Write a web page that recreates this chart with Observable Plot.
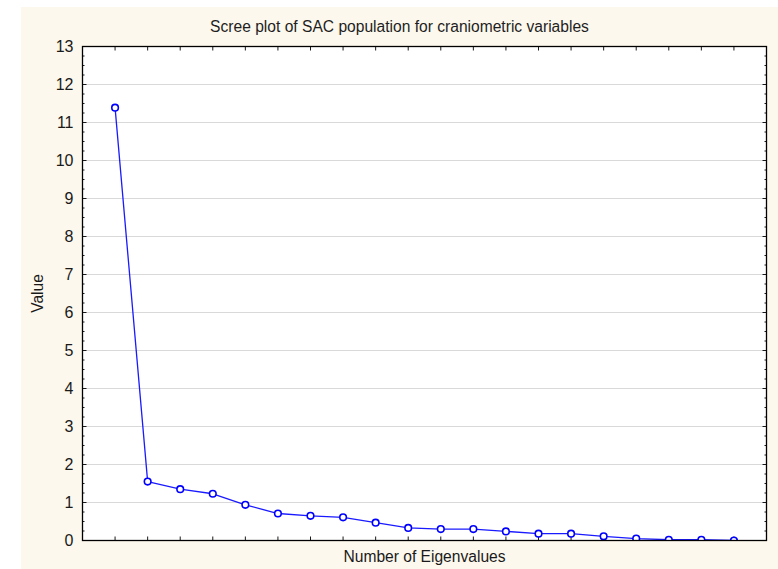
<!DOCTYPE html>
<html>
<head>
<meta charset="utf-8">
<script src="https://cdn.jsdelivr.net/npm/d3@7"></script>
<script src="https://cdn.jsdelivr.net/npm/@observablehq/plot@0.6"></script>
<style>
  html, body { margin: 0; padding: 0; background: #ffffff; }
  #panel {
    position: absolute; left: 21px; top: 7px; width: 757px; height: 562px;
    background: #fdf8ed; font-family: "Liberation Sans", Arial, sans-serif;
  }
  #title {
    box-sizing: border-box; height: 30px; padding-top: 12.2px;
    font-size: 15.6px; line-height: 15.6px; text-align: center; color: #1e1e1e;
    white-space: nowrap;
  }
  #chart svg { display: block; }
</style>
</head>
<body>
<div id="panel">
  <div id="title">Scree plot of SAC population for craniometric variables</div>
  <div id="chart"></div>
</div>
<script>
// ---- data ----
const eigenNumbers = [1, 2, 3, 4, 5, 6, 7, 8, 9, 10, 11, 12, 13, 14, 15, 16, 17, 18, 19, 20];
const eigenvalues = [11.39, 1.55, 1.35, 1.23, 0.94, 0.71, 0.65, 0.61, 0.47, 0.33,
                     0.30, 0.30, 0.24, 0.18, 0.18, 0.11, 0.05, 0.02, 0.02, 0.00];
const yTicks = [0, 1, 2, 3, 4, 5, 6, 7, 8, 9, 10, 11, 12, 13];
const xLabel = "Number of Eigenvalues";
const yLabel = "Value";

const points = eigenNumbers.map((n, i) => ({n, v: eigenvalues[i]}));
const yMinor = d3.range(0, 13.001, 0.25).filter(d => Math.abs(d - Math.round(d)) > 1e-6);

// tick-line symbols (fixed pixel lengths)
const seg = (dx, dy) => ({draw(ctx) { ctx.moveTo(0, 0); ctx.lineTo(dx, dy); }});

const ink = "#1a1a1a";
const chart = Plot.plot({
  width: 757,
  height: 532,
  marginLeft: 61,
  marginRight: 12,
  marginTop: 9,
  marginBottom: 29,
  style: {background: "transparent", fontFamily: "'Liberation Sans', Arial, sans-serif", overflow: "visible"},
  x: {domain: [0, 21], axis: null},
  y: {domain: [0, 13], axis: null},
  marks: [
    Plot.frame({fill: "white", stroke: "none"}),
    Plot.ruleY(yTicks.filter(d => d > 0 && d < 13), {stroke: "#d9d9d9", strokeWidth: 1}),
    // left / right ticks
    Plot.dot(yTicks, {x: 0, y: d => d, symbol: seg(4, 0), stroke: ink, fill: "none", strokeWidth: 1}),
    Plot.dot(yMinor, {x: 0, y: d => d, symbol: seg(2, 0), stroke: ink, fill: "none", strokeWidth: 1}),
    Plot.dot(yTicks, {x: 21, y: d => d, symbol: seg(-4, 0), stroke: ink, fill: "none", strokeWidth: 1}),
    Plot.dot(yMinor, {x: 21, y: d => d, symbol: seg(-2, 0), stroke: ink, fill: "none", strokeWidth: 1}),
    // top / bottom ticks
    Plot.dot(eigenNumbers, {x: d => d, y: 13, symbol: seg(0, 4), stroke: ink, fill: "none", strokeWidth: 1}),
    Plot.dot(eigenNumbers, {x: d => d, y: 0, symbol: seg(0, -4), stroke: ink, fill: "none", strokeWidth: 1}),
    // y tick labels
    Plot.text(yTicks, {x: 0, y: d => d, text: d => String(d), textAnchor: "end", dx: -9,
      fontSize: 16, fill: ink}),
    // data
    Plot.line(points, {x: "n", y: "v", stroke: "#1a1aff", strokeWidth: 1.3, clip: true}),
    Plot.dot(points, {x: "n", y: "v", r: 3.3, stroke: "#0000ff", fill: "white", strokeWidth: 1.6, clip: true}),
    Plot.frame({stroke: "#000000", strokeWidth: 1.3}),
    // axis titles
    Plot.text([xLabel], {frameAnchor: "bottom", text: d => d, textAnchor: "middle", lineAnchor: "middle", dy: 16.5,
      fontSize: 15.6, fill: ink}),
    Plot.text([yLabel], {frameAnchor: "left", text: d => d, textAnchor: "middle", lineAnchor: "middle", rotate: -90, dx: -45,
      fontSize: 15.6, fill: ink})
  ]
});
document.getElementById("chart").appendChild(chart);
</script>
</body>
</html>
